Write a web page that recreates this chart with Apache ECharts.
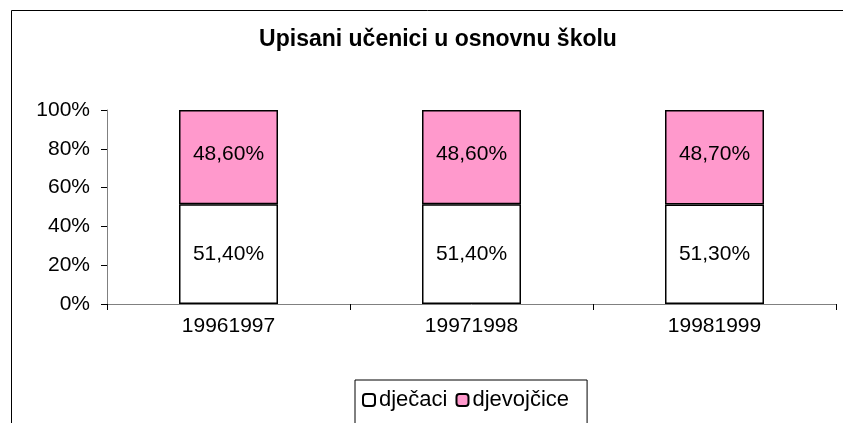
<!DOCTYPE html>
<html>
<head>
<meta charset="utf-8">
<script src="https://cdn.jsdelivr.net/npm/echarts@6/dist/echarts.min.js"></script>
<style>
  html, body { margin: 0; padding: 0; background: #fff; }
  #chartBox { width: 843px; height: 423px; }
</style>
</head>
<body>
<div id="chartBox"></div>
<script>
const categories = ["19961997", "19971998", "19981999"];
const djecaci = [51.4, 51.4, 51.3];
const djevojcice = [48.6, 48.6, 48.7];
const yTicks = [0, 20, 40, 60, 80, 100];

const chartDom = document.getElementById("chartBox");
const myChart = echarts.init(chartDom);
const font = "'Liberation Sans', Arial, sans-serif";

function pct(v) {
  return v.toFixed(2).replace(".", ",") + "%";
}

const option = {
  animation: false,
  backgroundColor: "#fff",
  title: {
    text: "Upisani učenici u osnovnu školu",
    left: 433,
    textAlign: "center",
    top: 23,
    textStyle: { fontFamily: font, fontSize: 23, fontWeight: "bold", color: "#000" },
  },
  graphic: [
    {
      type: "rect",
      shape: { x: 11.5, y: 10.5, width: 900, height: 500 },
      style: { fill: null, stroke: "#000", lineWidth: 1 },
      silent: true,
    },
  ],
  legend: {
    left: 355,
    top: 380,
    itemWidth: 12,
    itemHeight: 12,
    itemGap: 8,
    padding: [9, 18, 30, 7],
    borderColor: "#000",
    borderWidth: 1,
    textStyle: { fontFamily: font, fontSize: 22, color: "#000", padding: [0, 0, 0, -1] },
    data: ["dječaci", "djevojčice"],
  },
  grid: { left: 107, right: 7, top: 110, bottom: 119 },
  xAxis: {
    type: "category",
    data: categories,
    axisLine: { lineStyle: { color: "#808080", width: 1 } },
    axisTick: { show: true, length: 6, lineStyle: { color: "#000" } },
    axisLabel: { fontFamily: font, fontSize: 21, color: "#000", margin: 12 },
  },
  yAxis: {
    type: "value",
    min: yTicks[0],
    max: yTicks[yTicks.length - 1],
    interval: yTicks[1] - yTicks[0],
    axisLine: { show: true, lineStyle: { color: "#808080", width: 1 } },
    axisTick: { show: true, length: 6, lineStyle: { color: "#000" } },
    splitLine: { show: false },
    axisLabel: {
      fontFamily: font,
      fontSize: 21,
      color: "#000",
      margin: 17,
      formatter: (v) => v + "%",
    },
  },
  series: [
    {
      name: "dječaci",
      type: "bar",
      stack: "total",
      barWidth: 99,
      data: djecaci,
      itemStyle: { color: "#ffffff", borderColor: "#000", borderWidth: 1.5 },
      label: {
        show: true,
        position: "inside",
        fontFamily: font,
        fontSize: 21,
        color: "#000",
        formatter: (p) => pct(p.value),
      },
    },
    {
      name: "djevojčice",
      type: "bar",
      stack: "total",
      barWidth: 99,
      data: djevojcice,
      itemStyle: { color: "#ff99cc", borderColor: "#000", borderWidth: 1.5 },
      label: {
        show: true,
        position: "inside",
        offset: [0, -3],
        fontFamily: font,
        fontSize: 21,
        color: "#000",
        formatter: (p) => pct(p.value),
      },
    },
  ],
};

option && myChart.setOption(option);
</script>
</body>
</html>
